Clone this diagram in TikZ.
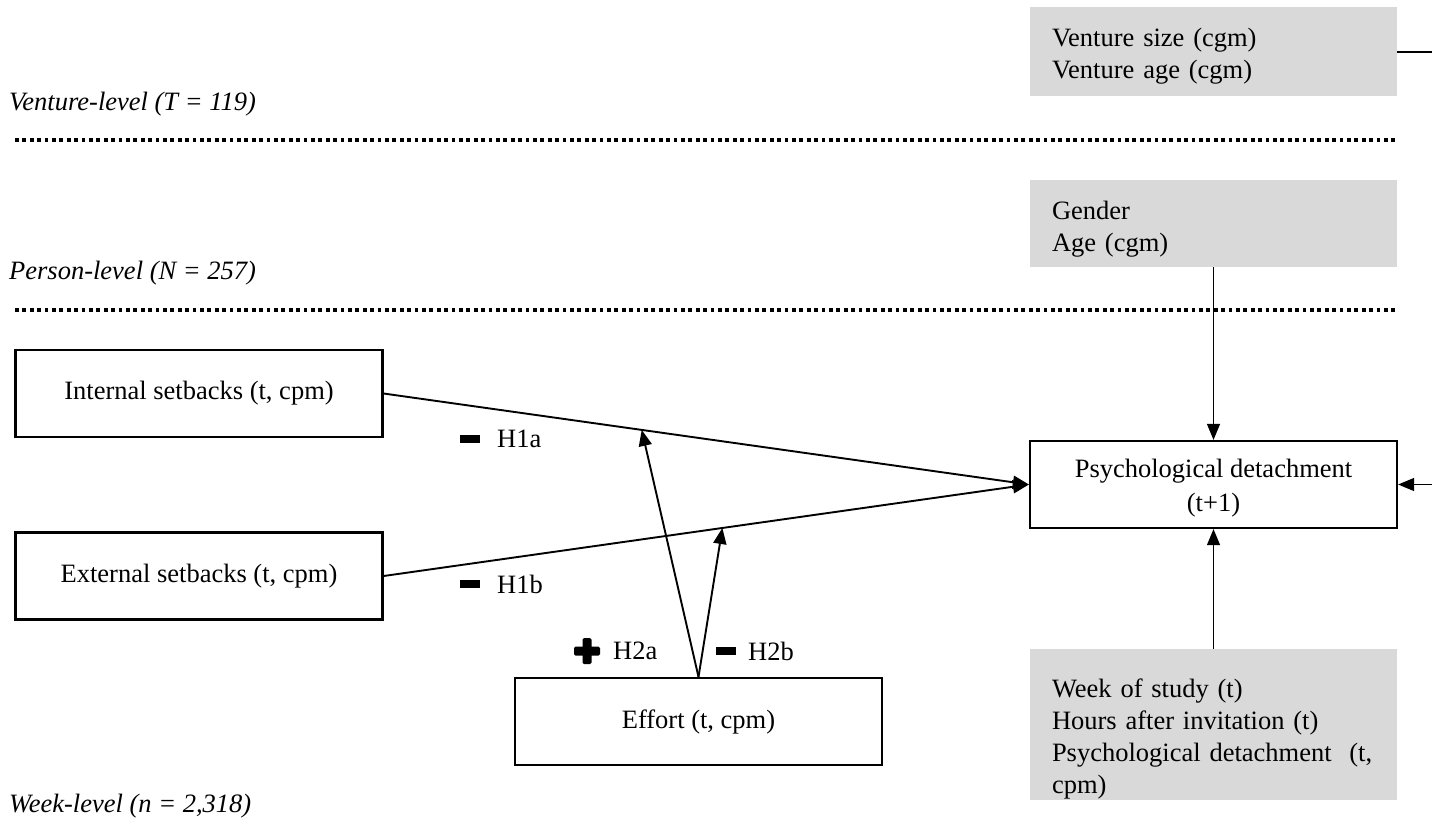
\documentclass[tikz,border=0pt]{standalone}
\usepackage{fontspec}
\setmainfont{Liberation Serif}
\usetikzlibrary{arrows.meta}
\definecolor{boxgray}{HTML}{D9D9D9}
\begin{document}
\begin{tikzpicture}[x=1pt,y=-1pt,
  font=\fontsize{26.5}{32}\selectfont,
  wbox/.style={draw, line width=2.2pt, minimum width=367pt, minimum height=87pt, inner sep=0pt, align=center},
  gbox/.style={fill=boxgray, minimum width=367pt, text width=323pt, inner sep=0pt, align=left},
  lvl/.style={anchor=west, inner sep=0pt, font=\fontsize{26.5}{32}\selectfont\itshape},
  dotline/.style={line width=3.5pt, dash pattern=on 3.8pt off 3.6pt},
  conn/.style={line width=1.9pt, -{Triangle[length=16pt,width=13pt]}},
  thinconn/.style={line width=1.2pt, -{Triangle[length=16pt,width=13pt]}},
  hyp/.style={anchor=west, inner sep=0pt}
]
\useasboundingbox (0,0) rectangle (1432,823);

% level labels and separators
\node[lvl] (vl) at (9,104) {Venture-level (T = 119)};
\draw[dotline] (15,140) -- (1397,140);
\node[lvl] (pl) at (9,273) {Person-level (N = 257)};
\draw[dotline] (15,310) -- (1397,310);
\node[lvl] (wl) at (9,806) {Week-level (n = 2,318)};

% control boxes
\node[gbox, minimum height=89pt] (ven) at (1213.5,51.5) {\rule{0pt}{27pt}Venture size (cgm)\\Venture age (cgm)};
\node[gbox, minimum height=87pt] (gen) at (1213.5,223.5) {\rule{0pt}{30pt}Gender\\Age (cgm)};
\node[gbox, minimum height=151pt] (wk) at (1213.5,724.5) {\rule{0pt}{47pt}Week of study (t)\\Hours after invitation (t)\\Psychological detachment\ \ (t,\\cpm)};

% main boxes
\node[wbox] (int) at (199,393.5) {Internal setbacks (t, cpm)};
\node[wbox] (ext) at (199,576) {External setbacks (t, cpm)};
\node[wbox] (psy) at (1213.5,484.5) {\rule{0pt}{25pt}Psychological detachment\\[2pt](t+1)};
\node[wbox] (eff) at (698.5,721.5) {Effort (t, cpm)};

% free ends on the right edge
\coordinate (vr) at (1432,52);
\coordinate (pr) at (1432,484.5);

% connectors
\draw[conn] (int.east) -- (psy.west) coordinate[pos=0.40] (m1);
\draw[conn] (ext.east) -- (psy.west) coordinate[pos=0.525] (m2);
\draw[conn] (eff.north) -- (m1);
\draw[conn] (eff.north) -- (m2);
\draw[thinconn] (gen.south) -- (psy.north);
\draw[thinconn] (wk.north) -- (psy.south);
\draw[thinconn] (pr) -- (psy.east);
\draw[line width=1.2pt] (ven.east |- vr) -- (vr);

% hypothesis signs and labels
\fill (460,435) rectangle (480,443);
\node[hyp] (h1a) at (497,439) {H1a};
\fill (460,580) rectangle (480,588);
\node[hyp] (h1b) at (497,584) {H1b};
\fill[rounded corners=1.5pt] (574,646.5) rectangle (600,655.5);
\fill[rounded corners=1.5pt] (582.5,638) rectangle (591.5,664);
\node[hyp] (h2a) at (613,651) {H2a};
\fill (716,647) rectangle (736,655);
\node[hyp] (h2b) at (748,651) {H2b};
\end{tikzpicture}
\end{document}
